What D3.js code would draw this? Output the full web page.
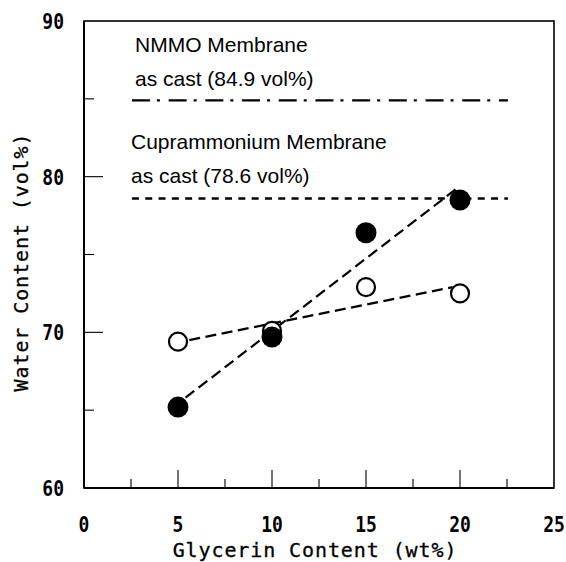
<!DOCTYPE html>
<html>
<head>
<meta charset="utf-8">
<script src="https://cdn.jsdelivr.net/npm/d3@7/dist/d3.min.js"></script>
<style>
  html, body { margin: 0; padding: 0; background: #fff; }
  svg { display: block; }
  .tick-num { font-family: "DejaVu Sans Mono", monospace; font-weight: bold; font-size: 20px; fill: #000; }
  .axis-title { font-family: "DejaVu Sans Mono", monospace; font-size: 20px; letter-spacing: 0.9px; fill: #000; stroke: #000; stroke-width: 0.3px; }
  .note { font-family: "Liberation Sans", Arial, sans-serif; font-size: 21px; fill: #000; }
</style>
</head>
<body>
<script>
// Glycerin content (wt%) of the casting dope
const glycerin = [5, 10, 15, 20];
// Water content (vol%) for the two membrane series
const filledSeries = [65.2, 69.7, 76.4, 78.5];
const openSeries = [69.4, 70.1, 72.9, 72.5];
// Trend-line end points [glycerin, water]
const filledTrend = [[5.4, 65.8], [20.0, 79.4]];
const openTrend = [[5.6, 69.5], [19.6, 72.9]];
// Reference levels of as-cast membranes
const nmmoLevel = 84.9;
const cuproLevel = 78.6;
const refSpan = [2.55, 22.55];
// Axis ticks
const xMajor = [0, 5, 10, 15, 20, 25];
const xMinor = [2.5, 7.5, 12.5, 17.5, 22.5];
const yMajor = [60, 70, 80, 90];
const yMinor = [65, 75, 85];

const W = 566, H = 562;
const plotL = 84, plotR = 554, plotT = 21, plotB = 488;

const svg = d3.select("body").append("svg").attr("width", W).attr("height", H);
const x = d3.scaleLinear().domain([0, 25]).range([plotL, plotR]);
const y = d3.scaleLinear().domain([60, 90]).range([plotB, plotT]);

// frame
svg.append("rect").attr("x", plotL).attr("y", plotT)
  .attr("width", plotR - plotL).attr("height", plotB - plotT)
  .attr("fill", "none").attr("stroke", "#000").attr("stroke-width", 1.6);
svg.append("line").attr("x1", plotL).attr("x2", plotR).attr("y1", plotB).attr("y2", plotB)
  .attr("stroke", "#000").attr("stroke-width", 2.2);
svg.append("line").attr("x1", plotL).attr("x2", plotL).attr("y1", plotT).attr("y2", plotB)
  .attr("stroke", "#000").attr("stroke-width", 2);

// inward ticks
const tickG = svg.append("g").attr("stroke", "#000").attr("stroke-width", 1.1);
tickG.selectAll(".xmaj").data(xMajor.slice(1, -1)).join("line")
  .attr("x1", d => x(d)).attr("x2", d => x(d)).attr("y1", plotB).attr("y2", plotB - 18);
tickG.selectAll(".xmin").data(xMinor).join("line")
  .attr("x1", d => x(d)).attr("x2", d => x(d)).attr("y1", plotB).attr("y2", plotB - 9);
tickG.selectAll(".ymaj").data(yMajor.slice(1, -1)).join("line")
  .attr("x1", plotL).attr("x2", plotL + 19).attr("y1", d => y(d)).attr("y2", d => y(d));
tickG.selectAll(".ymin").data(yMinor).join("line")
  .attr("x1", plotL).attr("x2", plotL + 10).attr("y1", d => y(d)).attr("y2", d => y(d));

// tick labels (narrow, tall digits)
svg.selectAll(".xl").data(xMajor).join("text").attr("class", "tick-num")
  .attr("transform", d => `translate(${x(d)},532) scale(0.9,1.08)`)
  .attr("text-anchor", "middle").text(d => d);
svg.selectAll(".yl").data(yMajor).join("text").attr("class", "tick-num")
  .attr("transform", d => `translate(64,${y(d) + 8}) scale(0.9,1.08)`)
  .attr("text-anchor", "end").text(d => d);

// axis titles
svg.append("text").attr("class", "axis-title")
  .attr("x", 315).attr("y", 557).attr("text-anchor", "middle")
  .text("Glycerin Content (wt%)");
svg.append("text").attr("class", "axis-title")
  .attr("transform", "translate(28,262) rotate(-90)").attr("text-anchor", "middle")
  .text("Water Content (vol%)");

// as-cast reference lines
svg.append("line")
  .attr("x1", x(refSpan[0])).attr("x2", x(refSpan[1]))
  .attr("y1", y(nmmoLevel)).attr("y2", y(nmmoLevel))
  .attr("stroke", "#000").attr("stroke-width", 2.4)
  .attr("stroke-dasharray", "18,7,3,8.7");
svg.append("line")
  .attr("x1", x(refSpan[0])).attr("x2", x(refSpan[1]))
  .attr("y1", y(cuproLevel)).attr("y2", y(cuproLevel))
  .attr("stroke", "#000").attr("stroke-width", 2.6)
  .attr("stroke-dasharray", "7,6.3");

// annotations
svg.append("text").attr("class", "note").attr("x", 135).attr("y", 52).text("NMMO Membrane");
svg.append("text").attr("class", "note").attr("x", 135).attr("y", 86).text("as cast (84.9 vol%)");
svg.append("text").attr("class", "note").attr("x", 131).attr("y", 149).text("Cuprammonium Membrane");
svg.append("text").attr("class", "note").attr("x", 131).attr("y", 183).text("as cast (78.6 vol%)");

// trend lines
const line = d3.line().x(d => x(d[0])).y(d => y(d[1]));
[filledTrend, openTrend].forEach(t => {
  svg.append("path").attr("d", line(t)).attr("fill", "none")
    .attr("stroke", "#000").attr("stroke-width", 2.2).attr("stroke-dasharray", "11,5.5");
});

// data points
svg.selectAll(".open").data(glycerin).join("circle")
  .attr("cx", d => x(d)).attr("cy", (d, i) => y(openSeries[i])).attr("r", 9)
  .attr("fill", "#fff").attr("stroke", "#000").attr("stroke-width", 2.2);
svg.selectAll(".filled").data(glycerin).join("circle")
  .attr("cx", d => x(d)).attr("cy", (d, i) => y(filledSeries[i])).attr("r", 10.5)
  .attr("fill", "#000");
</script>
</body>
</html>
